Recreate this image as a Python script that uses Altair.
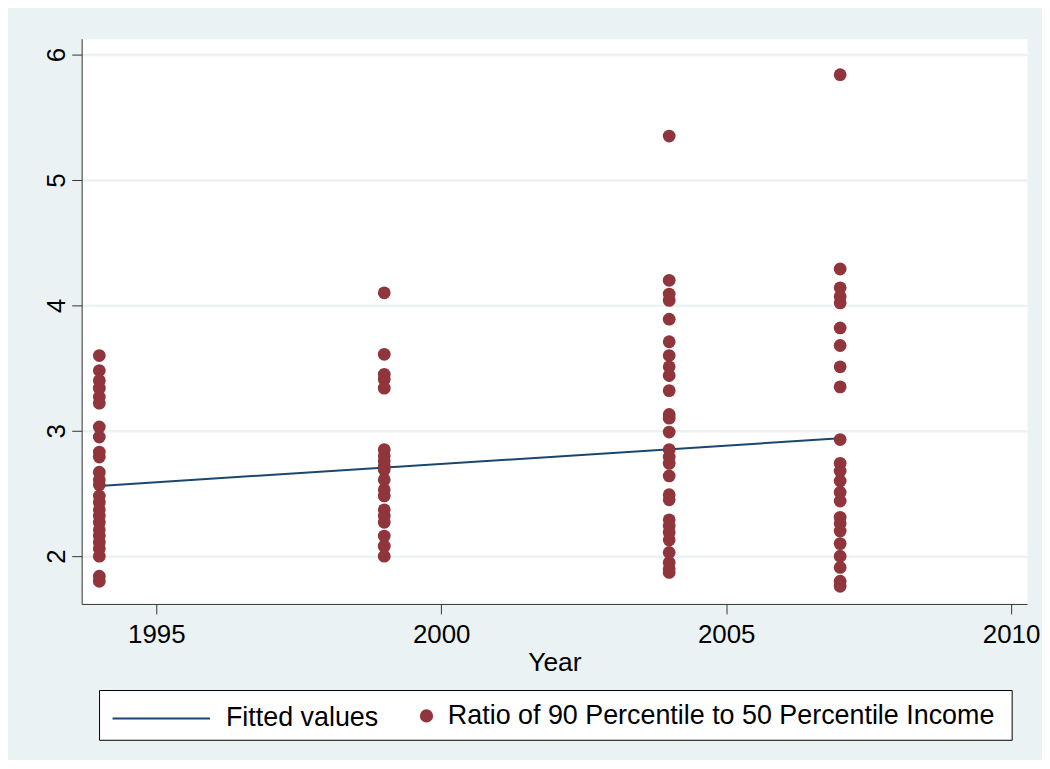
import altair as alt
import pandas as pd

# ---- data ----
series_names = ["Fitted values", "Ratio of 90 Percentile to 50 Percentile Income"]

years = [1994, 1999, 2004, 2007]
ratio_1994 = [3.60, 3.48, 3.40, 3.34, 3.27, 3.22, 3.03, 2.95, 2.83, 2.79, 2.67, 2.61,
              2.57, 2.48, 2.43, 2.37, 2.32, 2.27, 2.21, 2.16, 2.11, 2.06, 2.00, 1.84, 1.80]
ratio_1999 = [4.10, 3.61, 3.45, 3.41, 3.34, 2.85, 2.80, 2.76, 2.72, 2.69, 2.61, 2.53,
              2.48, 2.37, 2.32, 2.27, 2.16, 2.08, 2.00]
ratio_2004 = [5.35, 4.20, 4.09, 4.04, 3.89, 3.71, 3.60, 3.51, 3.44, 3.32, 3.13, 3.10,
              2.99, 2.85, 2.79, 2.74, 2.64, 2.49, 2.45, 2.29, 2.24, 2.19, 2.13, 2.03,
              1.95, 1.90, 1.87]
ratio_2007 = [5.84, 4.29, 4.14, 4.07, 4.02, 3.82, 3.68, 3.51, 3.35, 2.93, 2.74, 2.68,
              2.60, 2.51, 2.44, 2.31, 2.26, 2.20, 2.10, 2.00, 1.91, 1.80, 1.76]

fit_years = [1994, 2007]
fit_values = [2.56, 2.94]

x_ticks = [1995, 2000, 2005, 2010]
y_ticks = [2, 3, 4, 5, 6]

# ---- tables ----
rows = []
for yr, vals in zip(years, [ratio_1994, ratio_1999, ratio_2004, ratio_2007]):
    for v in vals:
        rows.append({"year": yr, "ratio": v, "series": series_names[1]})
points_df = pd.DataFrame(rows)
fit_df = pd.DataFrame({"year": fit_years, "ratio": fit_values,
                       "series": [series_names[0]] * len(fit_years)})

NAVY = "#1A476F"
MAROON = "#90353B"
BG = "#EAF2F3"
FONT = "Liberation Sans"

xscale = alt.Scale(domain=[1993.69, 2010.28], nice=False, zero=False)
yscale = alt.Scale(domain=[1.619, 6.127], nice=False, zero=False)

xaxis = alt.Axis(values=x_ticks, format="d", title="Year", grid=False,
                 tickSize=10, labelPadding=8, titlePadding=2,
                 labelFontSize=26, titleFontSize=26.5, titleFontWeight="normal")
yaxis = alt.Axis(values=y_ticks, title=None, grid=True, gridColor=BG, gridWidth=2.5,
                 tickSize=10, labelAngle=270, labelAlign="center",
                 labelBaseline="bottom", labelPadding=2, labelFontSize=26)

box = alt.Chart(alt.Data(values=[{}])).mark_rect(
    fill="white", stroke="black", strokeWidth=1
).encode(x=alt.value(18), x2=alt.value(935), y=alt.value(655), y2=alt.value(705))

line = alt.Chart(fit_df).mark_line(strokeWidth=2).encode(
    x=alt.X("year:Q", scale=xscale, axis=xaxis),
    y=alt.Y("ratio:Q", scale=yscale, axis=yaxis),
    stroke=alt.Stroke(
        "series:N",
        scale=alt.Scale(domain=[series_names[0]], range=[NAVY]),
        legend=alt.Legend(orient="none", legendX=30, legendY=633, title=None,
                          symbolType="stroke", symbolSize=9604, symbolStrokeWidth=2,
                          labelFontSize=27, labelOffset=15, padding=0,
                          labelLimit=1000),
    ),
)

points = alt.Chart(points_df).mark_circle(size=165, opacity=1).encode(
    x=alt.X("year:Q", scale=xscale, axis=xaxis),
    y=alt.Y("ratio:Q", scale=yscale, axis=yaxis),
    fill=alt.Fill(
        "series:N",
        scale=alt.Scale(domain=[series_names[1]], range=[MAROON]),
        legend=alt.Legend(orient="none", legendX=333, legendY=667, title=None,
                          symbolType="circle", symbolSize=177,
                          labelFontSize=27, labelOffset=8, padding=0,
                          labelLimit=1000),
    ),
)

chart = alt.layer(box, line, points).properties(
    width=950, height=568,
    background=BG,
    padding={"left": 74, "top": 29, "right": 15, "bottom": 155},
    autosize=alt.AutoSizeParams(type="none"),
).configure_view(
    fill="white", stroke="transparent"
).configure_axis(
    domainColor="#333333", tickColor="#333333", labelColor="black", titleColor="black",
    labelFont=FONT, titleFont=FONT, domainWidth=1, tickWidth=1,
).configure_legend(
    labelFont=FONT, labelColor="black",
)

chart.save("out.html", embed_options={"renderer": "svg", "actions": False})
